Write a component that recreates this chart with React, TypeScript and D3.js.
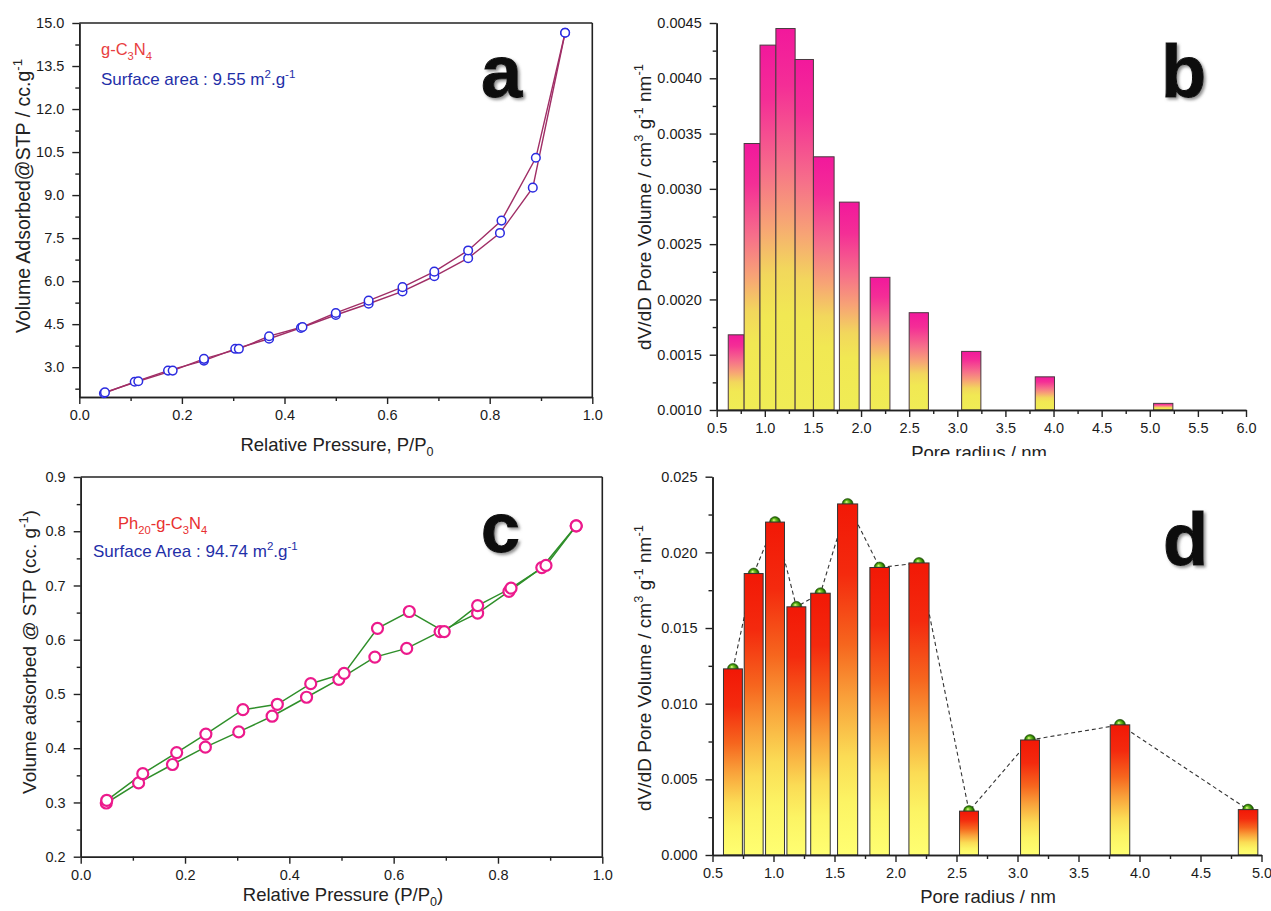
import React, { useEffect, useRef } from 'react';
import * as d3 from 'd3';

const W = 1271;
const H = 911;
const FONT = '"Liberation Sans", Arial, Helvetica, sans-serif';
const AXIS = '#222';

// (a) g-C3N4 isotherm
const aAdsP = [0.048, 0.108, 0.173, 0.243, 0.304, 0.37, 0.432, 0.5, 0.564, 0.63, 0.692, 0.758, 0.82, 0.884, 0.947];
const aAdsV = [2.09, 2.49, 2.88, 3.23, 3.64, 3.99, 4.37, 4.82, 5.21, 5.64, 6.17, 6.8, 7.68, 9.26, 14.66];
const aDesP = [0.05, 0.115, 0.182, 0.243, 0.311, 0.37, 0.435, 0.5, 0.564, 0.63, 0.692, 0.758, 0.823, 0.89, 0.947];
const aDesV = [2.12, 2.51, 2.88, 3.29, 3.64, 4.08, 4.4, 4.89, 5.32, 5.79, 6.33, 7.07, 8.11, 10.3, 14.66];
const aXTicks = [0, 0.2, 0.4, 0.6, 0.8, 1.0];
const aYTicks = [3.0, 4.5, 6.0, 7.5, 9.0, 10.5, 12.0, 13.5, 15.0];

// (b) g-C3N4 pore size distribution
const bLo = [0.62, 0.785, 0.95, 1.115, 1.315, 1.505, 1.775, 2.095, 2.5, 3.045, 3.81, 5.04];
const bHi = [0.785, 0.95, 1.115, 1.315, 1.505, 1.72, 1.98, 2.3, 2.7, 3.245, 4.01, 5.24];
const bVal = [0.00168, 0.00341, 0.0043, 0.00445, 0.00417, 0.00329, 0.00288, 0.0022, 0.00188, 0.00153, 0.0013, 0.00106];
const bXTicks = [0.5, 1.0, 1.5, 2.0, 2.5, 3.0, 3.5, 4.0, 4.5, 5.0, 5.5, 6.0];
const bYTicks = [0.001, 0.0015, 0.002, 0.0025, 0.003, 0.0035, 0.004, 0.0045];

// (c) Ph20-g-C3N4 isotherm
const cAdsP = [0.049, 0.111, 0.176, 0.239, 0.303, 0.367, 0.433, 0.495, 0.564, 0.625, 0.689, 0.761, 0.821, 0.884, 0.95];
const cAdsV = [0.299, 0.336, 0.37, 0.402, 0.43, 0.459, 0.494, 0.527, 0.568, 0.584, 0.615, 0.649, 0.689, 0.733, 0.81];
const cDesP = [0.05, 0.119, 0.184, 0.24, 0.311, 0.377, 0.441, 0.505, 0.569, 0.63, 0.697, 0.761, 0.825, 0.892, 0.95];
const cDesV = [0.304, 0.353, 0.392, 0.426, 0.471, 0.481, 0.519, 0.538, 0.621, 0.652, 0.615, 0.663, 0.695, 0.737, 0.81];
const cXTicks = [0, 0.2, 0.4, 0.6, 0.8, 1.0];
const cYTicks = [0.2, 0.3, 0.4, 0.5, 0.6, 0.7, 0.8, 0.9];

// (d) Ph20-g-C3N4 pore size distribution
const dLo = [0.59, 0.76, 0.935, 1.11, 1.305, 1.525, 1.79, 2.11, 2.525, 3.025, 3.76, 4.81];
const dHi = [0.745, 0.915, 1.09, 1.265, 1.465, 1.69, 1.95, 2.275, 2.68, 3.18, 3.92, 4.97];
const dVal = [0.0123, 0.0186, 0.022, 0.0164, 0.0173, 0.0232, 0.019, 0.0193, 0.0029, 0.0076, 0.0086, 0.003];
const dXTicks = [0.5, 1.0, 1.5, 2.0, 2.5, 3.0, 3.5, 4.0, 4.5, 5.0];
const dYTicks = [0, 0.005, 0.01, 0.015, 0.02, 0.025];

type Part = [string, string?];

function richText(g, x, y, parts: Part[], size, color, opts: any = {}) {
    const t = g.append('text')
        .attr('x', x)
        .attr('y', y)
        .attr('font-size', size)
        .attr('font-family', FONT)
        .attr('fill', color)
        .attr('text-anchor', opts.anchor || 'start');
    if (opts.rotate) t.attr('transform', `rotate(-90 ${x} ${y})`);
    let shift = 0;
    parts.forEach(([s, kind]) => {
        const target = kind === 'sub' ? size * 0.28 : kind === 'sup' ? -size * 0.42 : 0;
        t.append('tspan')
            .attr('dy', target - shift)
            .attr('font-size', kind ? size * 0.68 : size)
            .text(s);
        shift = target;
    });
    return t;
}

function minorOf(major: number[], step: number, lo: number, hi: number) {
    return d3.range(lo, hi + step / 2, step)
        .filter((v) => !major.some((m) => Math.abs(m - v) < step / 10));
}

function drawAxes(g, x, y, o) {
    const [xa, xb] = x.range();
    const [ya, yb] = y.range();
    const style = (sel) => {
        sel.attr('font-size', 14.5).attr('font-family', FONT);
        sel.select('.domain').attr('stroke', AXIS).attr('stroke-width', 1.6);
        sel.selectAll('.tick line').attr('stroke', AXIS).attr('stroke-width', 1.4);
        sel.selectAll('.tick text').attr('fill', '#1b1b1b');
    };
    // minor ticks
    g.append('g')
        .attr('transform', `translate(0,${ya})`)
        .call(d3.axisBottom(x).tickValues(o.xMinor).tickSize(4).tickSizeOuter(0).tickFormat(() => ''))
        .call(style);
    g.append('g')
        .attr('transform', `translate(${xa},0)`)
        .call(d3.axisLeft(y).tickValues(o.yMinor).tickSize(4).tickSizeOuter(0).tickFormat(() => ''))
        .call(style);
    // major ticks + labels
    g.append('g')
        .attr('transform', `translate(0,${ya})`)
        .call(d3.axisBottom(x).tickValues(o.xTicks).tickSize(7).tickSizeOuter(0).tickPadding(6).tickFormat(o.xFmt))
        .call(style);
    g.append('g')
        .attr('transform', `translate(${xa},0)`)
        .call(d3.axisLeft(y).tickValues(o.yTicks).tickSize(7).tickSizeOuter(0).tickPadding(8).tickFormat(o.yFmt))
        .call(style);
    if (o.box) {
        g.append('line').attr('x1', xa).attr('x2', xb).attr('y1', yb).attr('y2', yb)
            .attr('stroke', AXIS).attr('stroke-width', 1.6);
        g.append('line').attr('x1', xb).attr('x2', xb).attr('y1', ya).attr('y2', yb)
            .attr('stroke', AXIS).attr('stroke-width', 1.6);
    }
}

function bigLetter(g, x, y, s, size) {
    g.append('text')
        .attr('x', x)
        .attr('y', y)
        .attr('font-size', size)
        .attr('font-weight', 'bold')
        .attr('font-family', FONT)
        .attr('fill', '#111')
        .attr('stroke', '#111')
        .attr('stroke-width', 1)
        .attr('filter', 'url(#shadow)')
        .text(s);
}

export default function App() {
    const svgRef = useRef<SVGSVGElement>(null);

    useEffect(() => {
        const svg = d3.select(svgRef.current);
        svg.selectAll('*').remove();
        const defs = svg.append('defs');

        // gradients
        const gb = defs.append('linearGradient').attr('id', 'gradB')
            .attr('x1', 0).attr('y1', 0).attr('x2', 0).attr('y2', 1);
        [[0, '#F2189C'], [0.15, '#F42E96'], [0.35, '#F6708A'], [0.5, '#F7A475'], [0.63, '#F2D75C'], [0.75, '#F1E853'], [1, '#F0EC55']]
            .forEach(([o, c]) => gb.append('stop').attr('offset', o).attr('stop-color', c));
        const gd = defs.append('linearGradient').attr('id', 'gradD')
            .attr('x1', 0).attr('y1', 0).attr('x2', 0).attr('y2', 1);
        [[0, '#F21806'], [0.2, '#F42A0E'], [0.4, '#F6661E'], [0.55, '#F9A03A'], [0.72, '#FBDC55'], [0.85, '#FCF464'], [1, '#FFFF72']]
            .forEach(([o, c]) => gd.append('stop').attr('offset', o).attr('stop-color', c));
        const gs = defs.append('radialGradient').attr('id', 'sphere')
            .attr('cx', 0.5).attr('cy', 0.5).attr('r', 0.5).attr('fx', 0.38).attr('fy', 0.3);
        [[0, '#E4F59A'], [0.3, '#78C828'], [0.75, '#2E7D05'], [1, '#174800']]
            .forEach(([o, c]) => gs.append('stop').attr('offset', o).attr('stop-color', c));
        const sh = defs.append('filter').attr('id', 'shadow')
            .attr('x', '-20%').attr('y', '-20%').attr('width', '150%').attr('height', '150%');
        sh.append('feDropShadow').attr('dx', 2).attr('dy', 2).attr('stdDeviation', 1.6)
            .attr('flood-color', '#777').attr('flood-opacity', 0.8);
        defs.append('clipPath').attr('id', 'clipB')
            .append('rect').attr('x', 600).attr('y', 0).attr('width', 671).attr('height', 456);

        const f1 = d3.format('.1f');

        // ---------- panel a ----------
        const ga = svg.append('g');
        const xa = d3.scaleLinear().domain([0, 1]).range([79.3, 592.3]);
        const ya = d3.scaleLinear().domain([1.96, 15]).range([397, 23]);
        drawAxes(ga, xa, ya, {
            xTicks: aXTicks, yTicks: aYTicks,
            xMinor: minorOf(aXTicks, 0.1, 0, 1), yMinor: minorOf(aYTicks, 0.75, 2.25, 15),
            xFmt: f1, yFmt: f1, box: true,
        });
        [[aAdsP, aAdsV], [aDesP, aDesV]].forEach(([p, v]) => {
            const ln = d3.line<number>().x((d, i) => xa(p[i])).y((d) => ya(d));
            ga.append('path').attr('d', ln(v)).attr('fill', 'none')
                .attr('stroke', '#A02E66').attr('stroke-width', 1.4);
        });
        [[aAdsP, aAdsV], [aDesP, aDesV]].forEach(([p, v]) => {
            ga.append('g').selectAll('circle').data(v).join('circle')
                .attr('cx', (d, i) => xa(p[i])).attr('cy', (d) => ya(d)).attr('r', 4.3)
                .attr('fill', '#fff').attr('stroke', '#2B2BE0').attr('stroke-width', 1.5);
        });
        richText(ga, 101, 55, [['g-C'], ['3', 'sub'], ['N'], ['4', 'sub']], 16.5, '#E8403F');
        richText(ga, 101, 85, [['Surface area : 9.55 m'], ['2', 'sup'], ['.g'], ['-1', 'sup']], 17, '#1F2FA8');
        bigLetter(ga, 481, 97, 'a', 74);
        richText(ga, 30, 196, [['Volume Adsorbed@STP / cc.g'], ['-1', 'sup']], 19.5, '#222', { anchor: 'middle', rotate: true });
        richText(ga, 337, 451, [['Relative Pressure, P/P'], ['0', 'sub']], 18.5, '#222', { anchor: 'middle' });

        // ---------- panel b ----------
        const gB = svg.append('g');
        const xb = d3.scaleLinear().domain([0.5, 6]).range([716.7, 1246]);
        const yb = d3.scaleLinear().domain([0.001, 0.0045]).range([410, 23]);
        gB.append('g').selectAll('rect').data(bVal).join('rect')
            .attr('x', (d, i) => xb(bLo[i]))
            .attr('width', (d, i) => xb(bHi[i]) - xb(bLo[i]))
            .attr('y', (d) => yb(d))
            .attr('height', (d) => yb(0.001) - yb(d))
            .attr('fill', 'url(#gradB)')
            .attr('stroke', '#4a3a40').attr('stroke-width', 1);
        drawAxes(gB, xb, yb, {
            xTicks: bXTicks, yTicks: bYTicks,
            xMinor: minorOf(bXTicks, 0.25, 0.5, 6), yMinor: minorOf(bYTicks, 0.00025, 0.001, 0.0045),
            xFmt: f1, yFmt: d3.format('.4f'), box: false,
        });
        bigLetter(gB, 1161, 97, 'b', 74);
        richText(gB, 651, 207, [['dV/dD Pore Volume / cm'], ['3', 'sup'], [' g'], ['-1', 'sup'], [' nm'], ['-1', 'sup']], 19, '#222', { anchor: 'middle', rotate: true });
        richText(gB, 979, 459, [['Pore radius / nm']], 18.5, '#222', { anchor: 'middle' })
            .attr('clip-path', 'url(#clipB)');

        // ---------- panel c ----------
        const gc = svg.append('g');
        const xc = d3.scaleLinear().domain([0, 1]).range([80.7, 602.3]);
        const yc = d3.scaleLinear().domain([0.2, 0.9]).range([856.7, 477]);
        drawAxes(gc, xc, yc, {
            xTicks: cXTicks, yTicks: cYTicks,
            xMinor: minorOf(cXTicks, 0.1, 0, 1), yMinor: minorOf(cYTicks, 0.05, 0.2, 0.9),
            xFmt: f1, yFmt: f1, box: true,
        });
        [[cAdsP, cAdsV], [cDesP, cDesV]].forEach(([p, v]) => {
            const ln = d3.line<number>().x((d, i) => xc(p[i])).y((d) => yc(d));
            gc.append('path').attr('d', ln(v)).attr('fill', 'none')
                .attr('stroke', '#2F8F2A').attr('stroke-width', 1.5);
        });
        [[cAdsP, cAdsV], [cDesP, cDesV]].forEach(([p, v]) => {
            gc.append('g').selectAll('circle').data(v).join('circle')
                .attr('cx', (d, i) => xc(p[i])).attr('cy', (d) => yc(d)).attr('r', 5.5)
                .attr('fill', '#fff').attr('stroke', '#EC1A8C').attr('stroke-width', 2.2);
        });
        richText(gc, 118, 529, [['Ph'], ['20', 'sub'], ['-g-C'], ['3', 'sub'], ['N'], ['4', 'sub']], 16.5, '#E8302F');
        richText(gc, 93, 557, [['Surface Area : 94.74 m'], ['2', 'sup'], ['.g'], ['-1', 'sup']], 17, '#1F2FA8');
        bigLetter(gc, 481, 552, 'c', 70);
        richText(gc, 36, 652, [['Volume adsorbed @ STP (cc. g'], ['-1', 'sup'], [')']], 19, '#222', { anchor: 'middle', rotate: true });
        richText(gc, 343, 901, [['Relative Pressure (P/P'], ['0', 'sub'], [')']], 18.5, '#222', { anchor: 'middle' });

        // ---------- panel d ----------
        const gD = svg.append('g');
        const xd = d3.scaleLinear().domain([0.5, 5]).range([712.5, 1261.5]);
        const yd = d3.scaleLinear().domain([0, 0.025]).range([855, 476.7]);
        const mid = (i) => (dLo[i] + dHi[i]) / 2;
        const dash = d3.line<number>().x((d, i) => xd(mid(i))).y((d) => yd(d));
        gD.append('path').attr('d', dash(dVal)).attr('fill', 'none')
            .attr('stroke', '#333').attr('stroke-width', 1.1).attr('stroke-dasharray', '4,3');
        gD.append('g').selectAll('circle').data(dVal).join('circle')
            .attr('cx', (d, i) => xd(mid(i))).attr('cy', (d) => yd(d)).attr('r', 5.5)
            .attr('fill', 'url(#sphere)').attr('stroke', '#1d4a05').attr('stroke-width', 0.5);
        gD.append('g').selectAll('rect').data(dVal).join('rect')
            .attr('x', (d, i) => xd(dLo[i]))
            .attr('width', (d, i) => xd(dHi[i]) - xd(dLo[i]))
            .attr('y', (d) => yd(d))
            .attr('height', (d) => yd(0) - yd(d))
            .attr('fill', 'url(#gradD)')
            .attr('stroke', '#333').attr('stroke-width', 1);
        drawAxes(gD, xd, yd, {
            xTicks: dXTicks, yTicks: dYTicks,
            xMinor: minorOf(dXTicks, 0.25, 0.5, 5), yMinor: minorOf(dYTicks, 0.0025, 0, 0.025),
            xFmt: f1, yFmt: d3.format('.3f'), box: false,
        });
        bigLetter(gD, 1163, 565, 'd', 74);
        richText(gD, 651, 668, [['dV/dD Pore Volume / cm'], ['3', 'sup'], [' g'], ['-1', 'sup'], [' nm'], ['-1', 'sup']], 19, '#222', { anchor: 'middle', rotate: true });
        richText(gD, 988, 903, [['Pore radius / nm']], 18.5, '#222', { anchor: 'middle' });
    }, []);

    return (
        <svg
            ref={svgRef}
            width={W}
            height={H}
            style={{ position: 'absolute', left: 0, top: 0, background: '#fff' }}
        />
    );
}
